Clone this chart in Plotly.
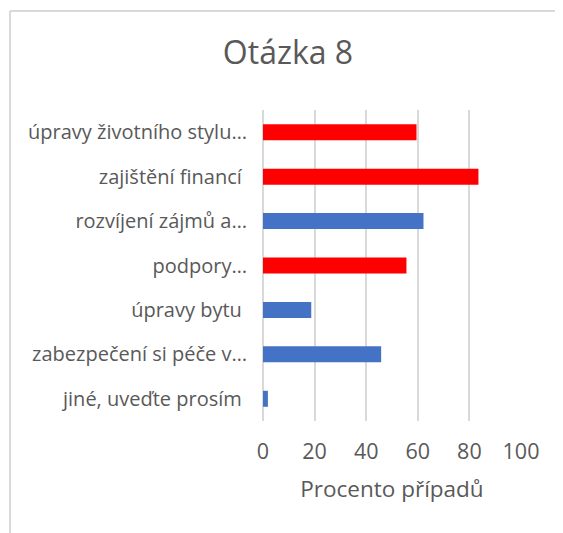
import plotly.graph_objects as go

# data
categories = [
    "úpravy životního stylu…",
    "zajištění financí\u00a0",
    "rozvíjení zájmů a…",
    "podpory…",
    "úpravy bytu\u00a0",
    "zabezpečení si péče v…",
    "jiné, uveďte prosím\u00a0",
]
values = [59.5, 83.5, 62.2, 55.6, 18.7, 45.8, 1.9]
bar_colors = ["#FF0000", "#FF0000", "#4472C4", "#FF0000", "#4472C4", "#4472C4", "#4472C4"]
x_ticks = [0, 20, 40, 60, 80, 100]

# the page body adds an 8px offset, so the figure is a bit smaller than the window
OFF = 8
W, H = 563 - OFF, 533 - OFF
ml, mr, mt, mb = 262.5 - OFF, 42, 110 - OFF, 112
pw = W - ml - mr
ph = H - mt - mb

font_name = "Open Sans"
text_col = "#595959"
grid_col = "#D9D9D9"

fig = go.Figure()
fig.add_trace(go.Bar(
    x=values, y=categories, orientation="h",
    marker=dict(color=bar_colors, line=dict(width=0)),
    hoverinfo="x+y",
))


# helpers: screen pixel -> paper coordinate
def px_x(p):
    return (p - OFF - ml) / pw


def px_y(p):
    return 1 - (p - OFF - mt) / ph


# chart frame (only the top and left edges are visible in the crop)
frame = dict(color=grid_col, width=2)
fig.add_shape(type="line", xref="paper", yref="paper",
              x0=px_x(9), x1=px_x(600), y0=px_y(11), y1=px_y(11), line=frame)
fig.add_shape(type="line", xref="paper", yref="paper",
              x0=px_x(9), x1=px_x(9), y0=px_y(11), y1=px_y(600), line=frame)

fig.update_layout(
    width=W, height=H,
    margin=dict(l=ml, r=mr, t=mt, b=mb, pad=0),
    paper_bgcolor="white", plot_bgcolor="white",
    bargap=0.64,
    showlegend=False,
    font=dict(family=font_name, color=text_col),
    title=dict(text="Otázka 8", x=(288 - OFF) / W, xanchor="center",
               y=1 - (53 - OFF) / H, yanchor="middle",
               font=dict(family=font_name, size=32, color=text_col)),
    xaxis=dict(
        range=[0, 100], tickvals=x_ticks, showgrid=True, gridcolor=grid_col, gridwidth=2,
        zeroline=True, zerolinecolor=grid_col, zerolinewidth=2,
        showline=False, ticks="", ticklabelstandoff=15,
        tickfont=dict(size=21.5, color=text_col),
        title=dict(text="Procento případů", standoff=17,
                   font=dict(size=22.5, color=text_col)),
        fixedrange=True,
    ),
    yaxis=dict(
        autorange="reversed", showgrid=False, showline=False, ticks="",
        ticklabelstandoff=15,
        tickfont=dict(size=20, color=text_col),
        fixedrange=True,
    ),
)

fig.write_html("out.html")
